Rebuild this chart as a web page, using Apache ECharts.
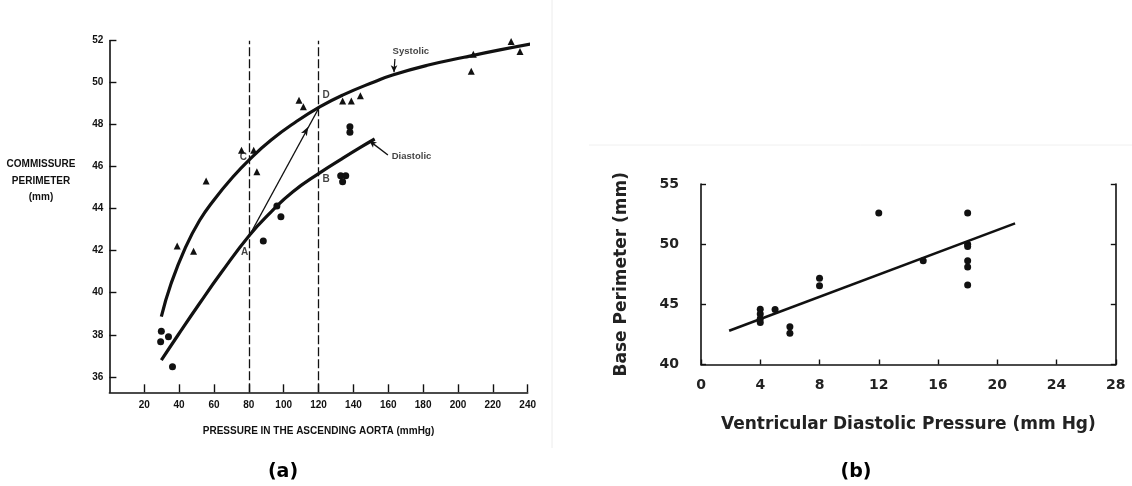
<!DOCTYPE html>
<html><head><meta charset="utf-8">
<script src="https://cdn.jsdelivr.net/npm/echarts@6/dist/echarts.min.js"></script>
<style>html,body{margin:0;padding:0;background:#fff}#c{width:1132px;height:486px}</style>
</head><body><div id="c"></div>
<script>
// ---------- Panel (a) ----------
const aXTicks = [20, 40, 60, 80, 100, 120, 140, 160, 180, 200, 220, 240];
const aYTicks = [36, 38, 40, 42, 44, 46, 48, 50, 52];
const systolicPts = [[38.9, 42.22], [48.3, 41.98], [55.5, 45.32], [75.8, 46.78], [82.8, 46.78], [84.6, 45.76],
  [108.8, 49.17], [111.3, 48.86], [133.8, 49.13], [138.8, 49.13], [144.0, 49.38],
  [207.6, 50.54], [208.8, 51.35], [230.5, 51.96], [235.6, 51.48]];
const diastolicPts = [[29.8, 38.17], [29.4, 37.67], [33.9, 37.9], [36.2, 36.48], [88.3, 42.46], [96.1, 44.13],
  [98.4, 43.62], [132.7, 45.57], [135.6, 45.57], [133.8, 45.29], [138.0, 47.9], [138.0, 47.64]];
const systolicCurve = [[29.8, 38.86], [35.4, 40.44], [43.6, 42.15], [51.8, 43.45], [60.0, 44.42], [70.2, 45.45],
  [80.5, 46.35], [92.8, 47.27], [107.1, 48.14], [120.9, 48.86], [133.8, 49.41], [152.2, 50.05],
  [162.5, 50.37], [183.0, 50.84], [203.5, 51.21], [224.0, 51.56], [245.5, 51.9]];
const diastolicCurve = [[29.8, 36.79], [39.5, 38.0], [51.8, 39.5], [64.1, 40.95], [80.5, 42.75], [92.8, 43.85],
  [105.1, 44.8], [120.9, 45.72], [133.8, 46.4], [144.0, 46.92], [152.2, 47.32]];
const lineAD = [[80.3, 42.72], [120.6, 48.86]];
const arrowAD = [[114.1, 47.9]];
const refPressures = [80, 120];
const pointLetters = ['A', 'B', 'C', 'D'];
const pointLetterPos = [[77.6, 41.92], [124.3, 45.41], [76.8, 46.45], [124.3, 49.38]];
const curveNames = ['Systolic', 'Diastolic'];
const curveNamePos = [[162.5, 51.48], [162.0, 46.48]];
const systolicPointer = [[163.8, 51.13], [163.3, 50.5]];
const diastolicPointer = [[159.8, 46.56], [149.2, 47.23]];

// ---------- Panel (b) ----------
const basePts = [[4, 44.6], [4, 44.2], [4, 43.8], [4, 43.5], [5, 44.58], [6, 43.14], [6, 42.6], [8, 47.16], [8, 46.55],
  [12, 52.6], [15, 48.62], [18, 52.6], [18, 50.0], [18, 49.8], [18, 48.62], [18, 48.1], [18, 46.6]];
const baseFit = [[1.9, 42.81], [21.2, 51.73]];

const INK = '#111';
const fa = 'Liberation Sans, Arial, sans-serif';
const fb = 'DejaVu Sans, sans-serif';

const chart = echarts.init(document.getElementById('c'), null, {renderer: 'canvas'});
const axLine = {show: true, onZero: false, lineStyle: {color: INK, width: 1.6}};

chart.setOption({
  backgroundColor: '#fff',
  animation: false,
  title: [
    {text: 'COMMISSURE\nPERIMETER\n(mm)', left: 36, top: 151, textAlign: 'center',
     textStyle: {fontFamily: fa, fontSize: 10, fontWeight: 'bold', color: INK, lineHeight: 16.5, align: 'center'}},
    {text: '(a)', left: 278, top: 458, textAlign: 'center',
     textStyle: {fontFamily: fb, fontSize: 19, fontWeight: 'bold', color: '#000'}},
    {text: '(b)', left: 851, top: 458, textAlign: 'center',
     textStyle: {fontFamily: fb, fontSize: 19, fontWeight: 'bold', color: '#000'}}
  ],
  graphic: [
    {type: 'line', shape: {x1: 552, y1: 0, x2: 552, y2: 448}, style: {stroke: '#ececec', lineWidth: 1}},
    {type: 'line', shape: {x1: 589, y1: 145, x2: 1132, y2: 145}, style: {stroke: '#f0f0f0', lineWidth: 1}}
  ],
  grid: [
    {left: 109.4, top: 40.7, width: 418.3, height: 351.6},
    {left: 701, top: 184, width: 414.8, height: 180.5}
  ],
  xAxis: [
    {type: 'value', gridIndex: 0, min: 0, max: 240,
     axisLine: axLine,
     axisTick: {show: true, inside: true, length: 8, customValues: aXTicks, lineStyle: {color: INK, width: 1.4}},
     axisLabel: {customValues: aXTicks, margin: 8, fontFamily: fa, fontSize: 10, fontWeight: 'bold', color: INK},
     splitLine: {show: false},
     name: 'PRESSURE IN THE ASCENDING AORTA (mmHg)', nameLocation: 'middle', nameGap: 34,
     nameTextStyle: {fontFamily: fa, fontSize: 10, fontWeight: 'bold', color: INK}},
    {type: 'value', gridIndex: 1, min: 0, max: 28, interval: 4,
     axisLine: axLine,
     axisTick: {show: true, inside: true, length: 5, lineStyle: {color: INK, width: 1.4}},
     axisLabel: {margin: 14, fontFamily: fb, fontSize: 14, fontWeight: 'bold', color: '#222'},
     splitLine: {show: false},
     name: 'Ventricular Diastolic Pressure (mm Hg)', nameLocation: 'middle', nameGap: 52,
     nameTextStyle: {fontFamily: fb, fontSize: 17, fontWeight: 'bold', color: '#222'}}
  ],
  yAxis: [
    {type: 'value', gridIndex: 0, min: 35.26, max: 52,
     axisLine: axLine,
     axisTick: {show: true, inside: true, length: 7, customValues: aYTicks, lineStyle: {color: INK, width: 1.4}},
     axisLabel: {customValues: aYTicks, margin: 6, fontFamily: fa, fontSize: 10, fontWeight: 'bold', color: INK},
     splitLine: {show: false}},
    {type: 'value', gridIndex: 1, min: 40, max: 55, interval: 5, position: 'left',
     axisLine: axLine,
     axisTick: {show: true, inside: true, length: 5, lineStyle: {color: INK, width: 1.4}},
     axisLabel: {margin: 22, fontFamily: fb, fontSize: 14, fontWeight: 'bold', color: '#222'},
     splitLine: {show: false},
     name: 'Base Perimeter (mm)', nameLocation: 'middle', nameGap: 71, nameRotate: 90,
     nameTextStyle: {fontFamily: fb, fontSize: 17, fontWeight: 'bold', color: '#222'}},
    {type: 'value', gridIndex: 1, min: 40, max: 55, interval: 5, position: 'right',
     axisLine: axLine,
     axisTick: {show: true, inside: true, length: 5, lineStyle: {color: INK, width: 1.4}},
     axisLabel: {show: false}, splitLine: {show: false}}
  ],
  series: [
    {type: 'line', xAxisIndex: 0, yAxisIndex: 0, data: systolicCurve, smooth: 0.5,
     showSymbol: false, clip: false, lineStyle: {color: INK, width: 3.2}},
    {type: 'line', xAxisIndex: 0, yAxisIndex: 0, data: diastolicCurve, smooth: 0.5,
     showSymbol: false, clip: false, lineStyle: {color: INK, width: 3.2}},
    {type: 'line', xAxisIndex: 0, yAxisIndex: 0, data: lineAD, showSymbol: false,
     lineStyle: {color: INK, width: 1.2},
     markLine: {silent: true, symbol: 'none', label: {show: false},
       lineStyle: {color: INK, width: 1.3, type: [9, 3]},
       data: refPressures.map(v => ({xAxis: v}))}},
    {type: 'scatter', xAxisIndex: 0, yAxisIndex: 0, data: arrowAD, symbol: 'arrow', symbolSize: [5, 9],
     symbolRotate: -29, itemStyle: {color: INK, opacity: 1}},
    {type: 'scatter', xAxisIndex: 0, yAxisIndex: 0, data: systolicPts, symbol: 'triangle', symbolSize: 7,
     itemStyle: {color: INK, opacity: 1}},
    {type: 'scatter', xAxisIndex: 0, yAxisIndex: 0, data: diastolicPts, symbol: 'circle', symbolSize: 7,
     itemStyle: {color: INK, opacity: 1}},
    {type: 'scatter', xAxisIndex: 0, yAxisIndex: 0, symbolSize: 0, silent: true, z: 5,
     data: pointLetters.map((t, i) => ({value: pointLetterPos[i], name: t})),
     label: {show: true, position: 'inside', formatter: '{b}', fontFamily: fa, fontSize: 10, fontWeight: 'bold', color: INK}},
    {type: 'scatter', xAxisIndex: 0, yAxisIndex: 0, symbolSize: 0, silent: true,
     data: curveNames.map((t, i) => ({value: curveNamePos[i], name: t})),
     label: {show: true, position: 'right', distance: 0, formatter: '{b}', fontFamily: fa, fontSize: 9.5,
       fontWeight: 'bold', color: INK}},
    {type: 'line', xAxisIndex: 0, yAxisIndex: 0, data: systolicPointer, showSymbol: false,
     lineStyle: {color: INK, width: 1.2}},
    {type: 'line', xAxisIndex: 0, yAxisIndex: 0, data: diastolicPointer, showSymbol: false,
     lineStyle: {color: INK, width: 1.4}},
    {type: 'scatter', xAxisIndex: 0, yAxisIndex: 0, symbol: 'arrow', symbolSize: [5, 7],
     data: [{value: systolicPointer[1], symbolRotate: 180}, {value: diastolicPointer[1], symbolRotate: 53}],
     itemStyle: {color: INK, opacity: 1}},
    // panel (b)
    {type: 'line', xAxisIndex: 1, yAxisIndex: 1, data: baseFit, showSymbol: false,
     lineStyle: {color: INK, width: 2.6}},
    {type: 'scatter', xAxisIndex: 1, yAxisIndex: 1, data: basePts, symbol: 'circle', symbolSize: 7,
     itemStyle: {color: INK, opacity: 1}}
  ]
});
</script>
</body></html>
